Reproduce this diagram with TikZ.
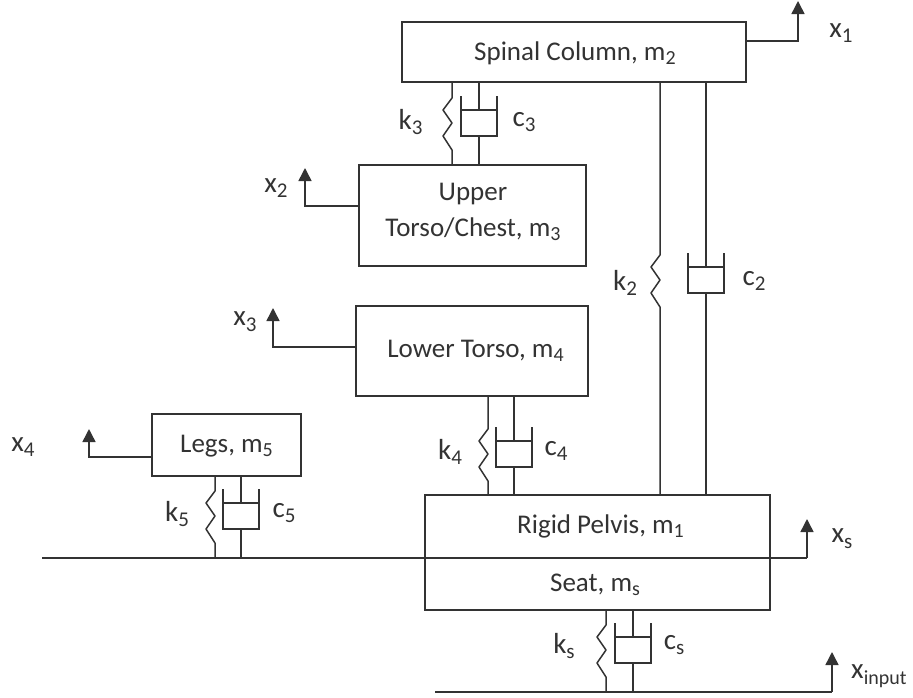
\documentclass[tikz,border=0pt]{standalone}
\usepackage{fontspec}
\setmainfont{Carlito}
\usetikzlibrary{arrows.meta}
\definecolor{ink}{HTML}{333333}
\tikzset{
  massbox/.style={draw=ink,line width=1.5pt,inner sep=0pt,fill=white},
  lbl/.style={inner sep=0pt,text=ink,font=\fontsize{27}{36}\selectfont,align=center},
  symlbl/.style={inner sep=0pt,text=ink,font=\fontsize{29}{32}\selectfont},
  wire/.style={draw=ink,line width=1.5pt},
  motion/.style={wire,-{Triangle[length=13pt,width=13pt]}},
}
\newcommand{\sbs}[1]{\raisebox{-0.2em}{\fontsize{21}{22}\selectfont #1}}
\newcommand{\tbs}[1]{\raisebox{-0.15em}{\fontsize{20}{22}\selectfont #1}}
% spring at x=#3, damper rod at x=#4, between nodes #1 (top) and #2 (bottom); spring start y=#5
\newcommand{\springdamper}[5]{%
  \coordinate (st) at (#3,0);
  \coordinate (dt) at (#4,0);
  \draw[wire,line join=round] (st |- #1.south) -- (#3,#5) -- ++(-9,12) -- ++(9,13) -- ++(-9,13) -- ++(9,14) -- (st |- #2.north);
  \draw[wire] (dt |- #1.south) -- (#4,#5+12);
  \draw[wire] (#4-18,#5-2) -- (#4-18,#5+38) -- (#4+18,#5+38) -- (#4+18,#5-2);
  \draw[wire] (#4-18,#5+12) -- (#4+18,#5+12);
  \draw[wire] (#4,#5+38) -- (dt |- #2.north);
}
\begin{document}
\begin{tikzpicture}[x=1pt,y=-1pt]
\useasboundingbox (0,0) rectangle (913,697);
% masses
\node[massbox,minimum width=344pt,minimum height=60pt] (spine) at (574,52) {};
\node[massbox,minimum width=227pt,minimum height=101pt] (chest) at (472.5,215.5) {};
\node[massbox,minimum width=232pt,minimum height=90pt] (lower) at (472,351) {};
\node[massbox,minimum width=149pt,minimum height=62pt] (legs) at (226.5,445) {};
\node[massbox,minimum width=345pt,minimum height=115pt] (pelvis) at (597.5,552.5) {};
% ground lines
\coordinate (gl) at (42,558);
\coordinate (gr) at (807,558);
\coordinate (xst) at (807,519);
\coordinate (bl) at (435,692);
\coordinate (br) at (832,692);
\coordinate (xit) at (832,652);
\coordinate (ft) at (798,1);
\coordinate (xt2) at (305,168);
\coordinate (xt3) at (273,308);
\coordinate (xt4) at (89,429);
\node[inner sep=0pt,minimum width=0pt,minimum height=0pt] (midline) at (141,558) {};
\node[inner sep=0pt,minimum width=0pt,minimum height=0pt] (floor) at (633,692) {};
\draw[wire] (gl) -- (pelvis.west |- gl) -- (gr);
\draw[wire] (bl) -- (br);
\draw[motion] (gr) -- (xst);
\draw[motion] (br) -- (xit);
\draw[motion] (spine.east |- 0,41) -- (798,41) -- (ft);
\draw[motion] (chest.west |- 0,206) -- (305,206) -- (xt2);
\draw[motion] (lower.west |- 0,347) -- (273,347) -- (xt3);
\draw[motion] (legs.west |- 0,457) -- (89,457) -- (xt4);
% spring-damper pairs
\springdamper{spine}{chest}{452}{479}{98}
\springdamper{spine}{pelvis}{660}{706}{255}
\springdamper{lower}{pelvis}{488}{514}{429}
\springdamper{legs}{midline}{215}{241}{491}
\springdamper{pelvis}{floor}{606}{633}{625}
% labels
\node[lbl] (tspine) at (575,53) {Spinal Column, m\tbs{2}};
\node[lbl] (tchest) at (473,211.5) {Upper\\Torso/Chest, m\tbs{3}};
\node[lbl] (tlower) at (475.5,351) {Lower Torso, m\tbs{4}};
\node[lbl] (tlegs) at (226.5,446) {Legs, m\tbs{5}};
\node[lbl] (tpelvis) at (600.5,526) {Rigid Pelvis, m\tbs{1}};
\node[lbl] (tseat) at (595,585) {Seat, m\tbs{s}};
\node[symlbl] (x1) at (841,33) {x\sbs{1}};
\node[symlbl] (x2) at (276,188) {x\sbs{2}};
\node[symlbl] (x3) at (245,322) {x\sbs{3}};
\node[symlbl] (x4) at (23,447) {x\sbs{4}};
\node[symlbl] (xs) at (842,539) {x\sbs{s}};
\node[symlbl,anchor=west] (xi) at (851,676) {x\raisebox{-0.2em}{\fontsize{20}{21}\selectfont input}};
\node[symlbl] (k3) at (410.5,122) {k\sbs{3}};
\node[symlbl] (c3) at (524,122) {c\sbs{3}};
\node[symlbl] (k2) at (625,283) {k\sbs{2}};
\node[symlbl] (c2) at (754,281) {c\sbs{2}};
\node[symlbl] (k4) at (450,452) {k\sbs{4}};
\node[symlbl] (c4) at (556,451) {c\sbs{4}};
\node[symlbl] (k5) at (177,514) {k\sbs{5}};
\node[symlbl] (c5) at (284,513) {c\sbs{5}};
\node[symlbl] (ks) at (564,646) {k\sbs{s}};
\node[symlbl] (cs) at (674,645) {c\sbs{s}};
\end{tikzpicture}
\end{document}
